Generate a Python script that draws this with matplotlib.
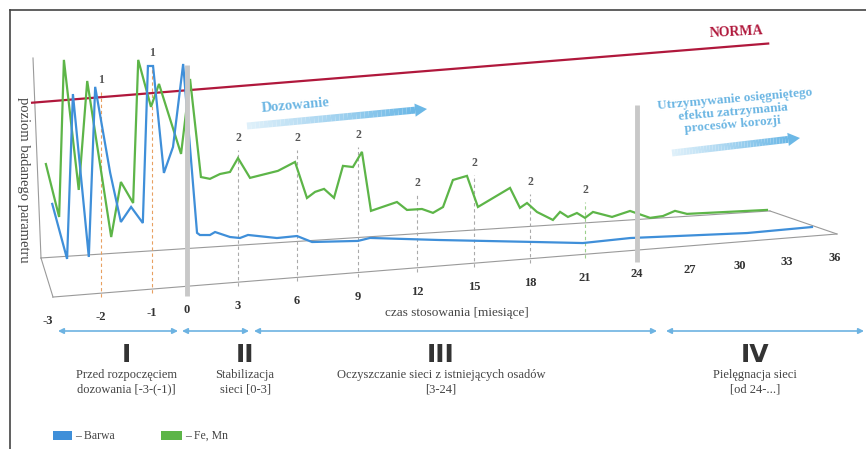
import numpy as np
import matplotlib.pyplot as plt
from matplotlib.transforms import Affine2D
from matplotlib.patches import Rectangle, Polygon
from matplotlib.collections import LineCollection
from matplotlib.colors import to_rgba

W, H = 866, 449

# perspective time axis: month -> horizontal position in the drawing
MONTH_KNOTS = [-3 - 48 / 53, -3, -2, -1, 0, 3, 6, 9, 12, 15, 18, 21, 24, 27, 30, 33, 36, 36 + 31 / 16]
PIXEL_KNOTS = [0, 48, 101, 152, 187, 238, 297, 358, 417, 474, 530, 585, 637, 690, 740, 787, 835, 866]

# Fe, Mn (green, back plane)
fe_t = [-3.04, -2.79, -2.70, -2.42, -2.26, -1.80, -1.61, -1.37, -1.27, -1.02, -0.80, -0.17,
        0.18, 0.82, 1.35, 1.94, 2.53, 3.0, 3.61, 5.03, 5.90, 6.49, 6.89, 7.33, 7.82, 8.26,
        8.75, 9.20, 9.66, 10.98, 11.49, 12.26, 12.84, 13.37, 13.89, 14.63, 15.21, 16.93,
        17.46, 17.84, 18.38, 19.25, 19.64, 20.07, 20.56, 21.0, 21.46, 22.56, 23.60, 24.74,
        25.47, 26.15, 26.83, 31.72]
fe_v = [46.8, 19.9, 98.3, 32.8, 87.0, 8.2, 35.4, 24.5, 95.9, 72.0, 83.2, 47.5,
        84.7, 35.3, 34.1, 36.2, 36.9, 43.6, 33.3, 35.9, 39.8, 21.4, 24.2, 25.4, 20.6, 36.3,
        35.4, 42.7, 12.9, 16.5, 12.2, 12.2, 9.9, 12.5, 25.7, 27.3, 11.4, 19.9,
        9.6, 11.8, 7.0, 2.5, 6.3, 3.5, 5.2, 2.5, 5.2, 2.1, 4.5, 0.4,
        0.9, 3.1, 1.2, 0.6]

# Barwa (blue, front plane)
barwa_t = [-2.92, -2.64, -2.53, -2.23, -2.11, -1.82, -1.61, -1.41, -1.18, -1.08, -0.97, -0.66,
           -0.40, -0.11, 0.59, 0.76, 1.35, 1.65, 2.53, 3.10, 3.51, 4.98, 6.0, 6.74, 9.0,
           9.61, 13.16, 18.0, 20.88, 23.60, 30.45, 34.56]
barwa_v = [46.6, 18.5, 100.7, 18.6, 103.4, 59.8, 34.8, 41.9, 33.4, 111.7, 111.5, 57.6,
           70.2, 111.3, 26.3, 25.1, 24.7, 26.0, 22.9, 22.0, 23.2, 20.5, 20.7, 17.1, 15.8,
           16.8, 13.0, 8.4, 5.7, 6.3, 4.1, 4.5]

norma_t = [-3.3, 31.8]
norma_v = [98, 98]

tick_months = [-3, -2, -1, 0, 3, 6, 9, 12, 15, 18, 21, 24, 27, 30, 33, 36]

mark_months = [-2, -1, 3, 6, 9, 12, 15, 18, 21]
mark_labels = ['1', '1', '2', '2', '2', '2', '2', '2', '2']
mark_levels = [106.7, 118.1, 72.1, 69.8, 68.8, 42.4, 50.2, 38.4, 32.2]
mark_colors = ['#e8a060', '#e8a060', '#aaaaaa', '#aaaaaa', '#aaaaaa', '#aaaaaa', '#aaaaaa',
               '#aaaaaa', '#9cd08c']

phase_names = ['I', 'II', 'III', 'IV']
phase_desc = ['Przed rozpoczęciem\ndozowania [-3-(-1)]', 'Stabilizacja\nsieci [0-3]',
              'Oczyszczanie sieci z istniejących osadów\n[3-24]', 'Pielęgnacja sieci\n[od 24-...]']
phase_x = [126, 245, 441, 755]
phase_spans = [(58, 178), (182, 249), (254, 657), (666, 864)]

GREEN = '#5db548'
BLUE = '#3f8fd9'
RED = '#b0183c'
SERIF = 'Liberation Serif'


def fwd(m):
    return np.interp(m, MONTH_KNOTS, PIXEL_KNOTS)


def inv(p):
    return np.interp(p, PIXEL_KNOTS, MONTH_KNOTS)


fig = plt.figure(figsize=(W / 100, H / 100), dpi=100)
ax = fig.add_axes([0, 0, 1, 1])
ax.set_xscale('function', functions=(fwd, inv))
ax.set_xlim(MONTH_KNOTS[0], MONTH_KNOTS[-1])
ax.set_ylim(0, H / 2)
ax.axis('off')

# image-pixel coordinates for the decoration
PX = Affine2D().scale(1 / W, -1 / H).translate(0, 1) + ax.transAxes


def plane(k, y0):
    # sheared plane: baseline runs along y = y0 + k*x in the picture
    shear = Affine2D.from_values(1, -k * W / H, 0, 1, 0, 1 - y0 / H)
    return ax.transScale + ax.transLimits + shear + ax.transAxes


back = plane(-0.0645, 260.6)
front = plane(-0.0804, 301.3)

# frame
ax.plot([10, W], [10, 10], color='#444444', lw=1.2, transform=PX)
ax.plot([10, 10], [10, H], color='#444444', lw=1.2, transform=PX)

# floor and wall
floor_c = '#9a9a9a'
ax.plot([-3.13, 31.91], [0, 0], color=floor_c, lw=0.8, transform=back)
ax.plot([-2.91, 36.12], [0, 0], color=floor_c, lw=0.8, transform=front)
ax.plot([41, 53], [258, 297], color=floor_c, lw=0.8, transform=PX)
ax.plot([770, 837], [211, 234], color=floor_c, lw=0.8, transform=PX)
ax.plot([41, 33], [258, 58], color=floor_c, lw=0.8, transform=PX)

# dashed markers
for m, lab, lev, c in zip(mark_months, mark_labels, mark_levels, mark_colors):
    ax.plot([m, m], [-2, lev - 6], color=c, lw=0.8, ls=(0, (3, 2.5)), transform=front, zorder=2)
    ax.text(m, lev, lab, transform=front, ha='center', va='center', family=SERIF,
            fontsize=8.5, fontweight='bold', color='#555555', zorder=2)

# series
ax.plot(norma_t, norma_v, color=RED, lw=1.6, transform=front, zorder=3)
ax.plot(fe_t, fe_v, color=GREEN, lw=1.6, transform=back, zorder=3, solid_joinstyle='miter')
ax.plot(barwa_t, barwa_v, color=BLUE, lw=1.6, transform=front, zorder=3, solid_joinstyle='miter')

# phase dividers
ax.plot([0, 0], [-5, 110.7], color='#c8c8c8', lw=3.5, transform=front, zorder=5,
        solid_capstyle='butt')
ax.plot([24, 24], [-6, 72.5], color='#c8c8c8', lw=3.5, transform=front, zorder=5,
        solid_capstyle='butt')

# month labels
for m in tick_months:
    ax.text(m, -12, str(m), transform=front, ha='center', va='center', family=SERIF,
            fontsize=9, fontweight='bold', color='#333333')

ax.text(457, 313, 'czas stosowania [miesiące]', transform=PX, ha='center', va='center',
        family=SERIF, fontsize=9.5, color='#444444')
ax.text(23, 180, 'poziom badanego parametru', transform=PX, ha='center', va='center',
        rotation=270, family=SERIF, fontsize=10.5, color='#444444')
ax.text(737, 32, 'NORMA', transform=PX, ha='center', va='center', rotation=3,
        family=SERIF, fontsize=10, fontweight='bold', color=RED)


def gradient_arrow(x0, y0, x1, y1, lw=5, head=12):
    d = np.array([x1 - x0, y1 - y0], dtype=float)
    L = np.hypot(*d)
    u = d / L
    n = np.array([-u[1], u[0]])
    end = np.array([x1, y1]) - u * head
    xs = np.linspace(x0, end[0], 41)
    ys = np.linspace(y0, end[1], 41)
    segs = [[(xs[i], ys[i]), (xs[i + 1], ys[i + 1])] for i in range(40)]
    c0 = np.array(to_rgba('#dff0fa'))
    c1 = np.array(to_rgba('#6cb8e6'))
    cols = [c0 + (c1 - c0) * i / 39 for i in range(40)]
    ax.add_collection(LineCollection(segs, colors=cols, linewidths=lw, transform=PX,
                                     capstyle='butt'))
    tip = np.array([x1, y1])
    hw = head * 0.55
    ax.add_patch(Polygon([tip, end + n * hw, end - n * hw], closed=True, color=cols[-1],
                         transform=PX, lw=0))


gradient_arrow(247, 126, 427, 109)
gradient_arrow(672, 153, 800, 138)

ax.text(296, 106, 'Dozowanie', transform=PX, ha='center', va='center', rotation=5,
        family=SERIF, fontsize=10.5, fontweight='bold', color='#6cb6e3')
for txt, (x, y) in zip(['Utrzymywanie osięgniętego', 'efektu zatrzymania', 'procesów korozji'],
                       [(735, 99), (733, 112), (733, 125)]):
    ax.text(x, y, txt, transform=PX, ha='center', va='center', rotation=5,
            family=SERIF, fontsize=9.5, fontweight='bold', color='#6cb6e3')

# phases
for (x0, x1) in phase_spans:
    ax.annotate('', xy=(x1, 331), xytext=(x0, 331), xycoords=PX, textcoords=PX,
                arrowprops=dict(arrowstyle='<|-|>', color='#6db3e2', lw=1.2,
                                mutation_scale=8, shrinkA=0, shrinkB=0))
for name, desc, x in zip(phase_names, phase_desc, phase_x):
    t = ax.text(x, 355, name, transform=PX, ha='center', va='center',
                family=['Liberation Sans Narrow', 'DejaVu Sans'], fontsize=18,
                fontweight='bold', color='#333333')
    t.set_transform(Affine2D().scale(0.8, 1).translate(x * 0.2, 0) + PX)
    ax.text(x, 382, desc, transform=PX, ha='center', va='center', family=SERIF,
            fontsize=9, color='#444444', linespacing=1.25)

# legend
ax.add_patch(Rectangle((53, 431), 19, 9, transform=PX, color=BLUE, lw=0))
ax.text(75, 436, '– Barwa', transform=PX, va='center', family=SERIF, fontsize=8.5,
        color='#444444')
ax.add_patch(Rectangle((161, 431), 21, 9, transform=PX, color=GREEN, lw=0))
ax.text(185, 436, '– Fe, Mn', transform=PX, va='center', family=SERIF, fontsize=8.5,
        color='#444444')

fig.savefig('out.png', dpi=100)
